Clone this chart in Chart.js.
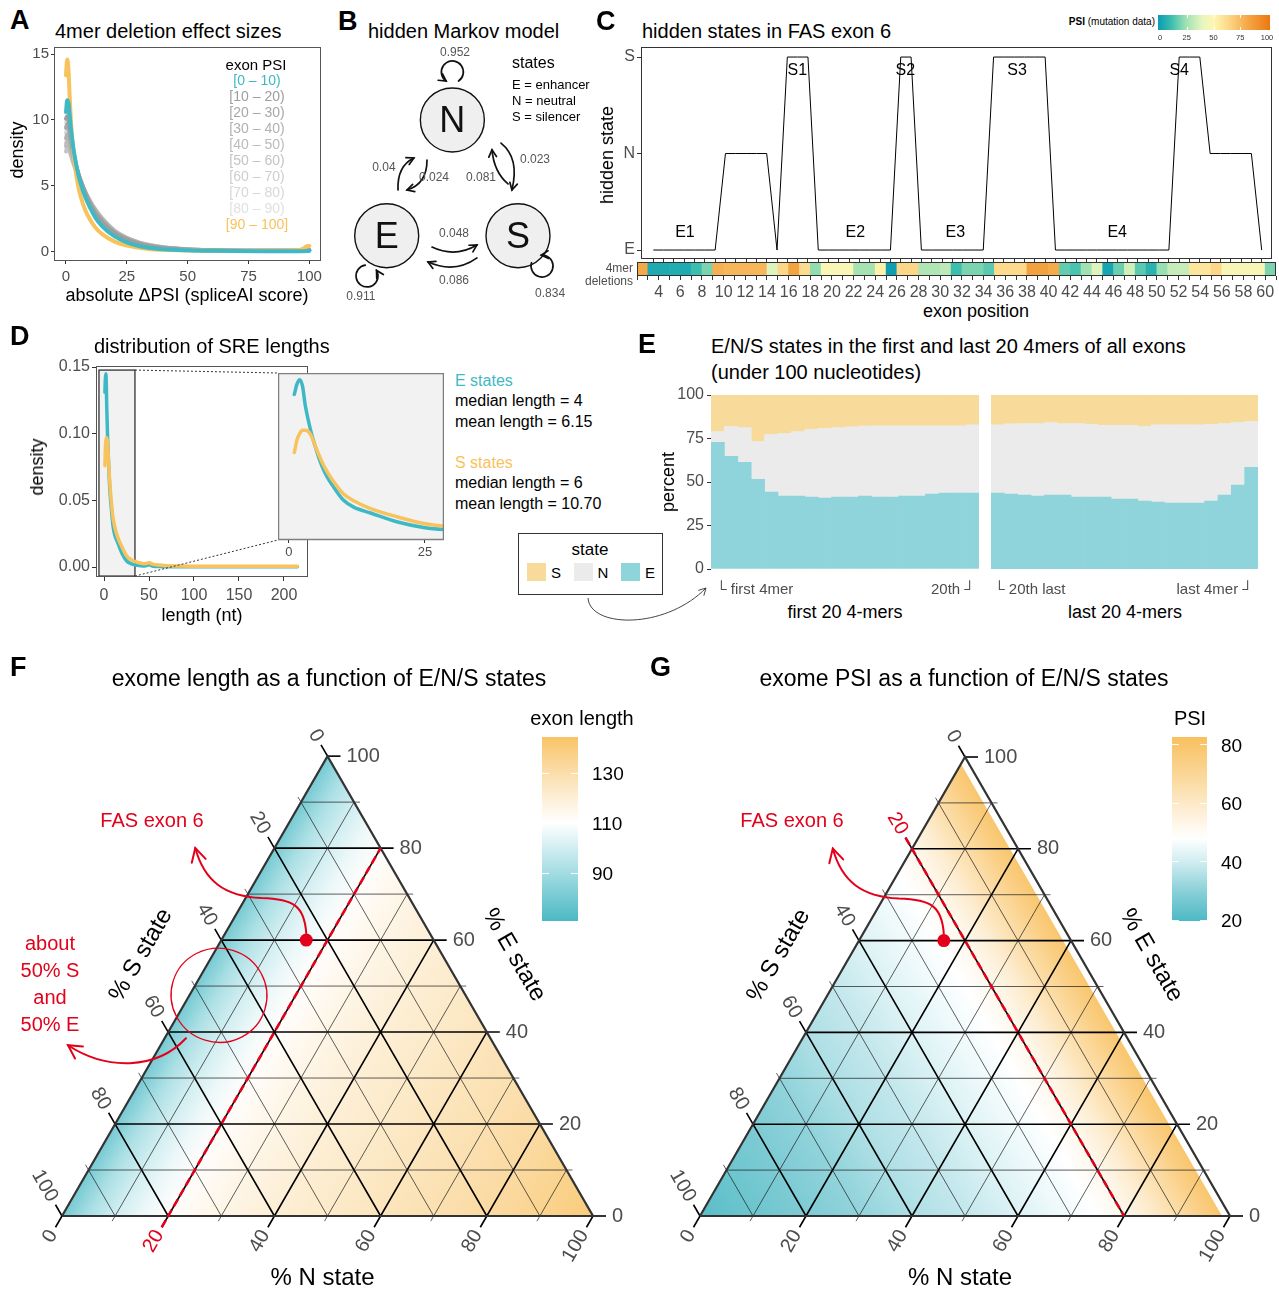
<!DOCTYPE html>
<html><head><meta charset="utf-8">
<script src="https://cdn.jsdelivr.net/npm/chart.js@4.4.1/dist/chart.umd.min.js"></script>
<style>
html,body{margin:0;padding:0;background:#fff;}
body{width:1279px;height:1290px;position:relative;overflow:hidden;font-family:"Liberation Sans",Arial,Helvetica,sans-serif;}
canvas{position:absolute;}
.t{position:absolute;white-space:nowrap;line-height:1;}
</style></head><body>
<script>
// ======================= DATA =======================
// --- Panel A: density of |dPSI| per exon PSI bin
const aX = [0,0.5,1,1.5,2,3,4,5,6,8,10,12,15,20,25,30,35,40,50,60,70,80,90,95,97,99,100];
const aBins = ['[0 – 10)','[10 – 20)','[20 – 30)','[30 – 40)','[40 – 50)','[50 – 60)','[60 – 70)','[70 – 80)','[80 – 90)','[90 – 100]'];
const aDens0to10 = [10.6,11.5,11.3,10.4,9.4,7.9,6.8,5.9,5.2,4.1,3.3,2.6,1.9,1.15,0.7,0.42,0.27,0.18,0.1,0.06,0.04,0.03,0.03,0.03,0.03,0.04,0.05];
const aDens10to20 = [10.1,10.3,10.0,9.4,8.7,7.6,6.7,6.0,5.4,4.4,3.6,2.9,2.2,1.4,0.9,0.58,0.38,0.26,0.14,0.09,0.06,0.05,0.05,0.05,0.06,0.08,0.09];
const aDens20to30 = [9.4,9.7,9.5,9.0,8.4,7.4,6.6,5.9,5.4,4.4,3.6,3.0,2.3,1.45,0.95,0.62,0.41,0.28,0.15,0.09,0.06,0.05,0.05,0.05,0.06,0.08,0.09];
const aDens30to40 = [8.6,8.9,8.8,8.4,8.0,7.2,6.5,5.9,5.4,4.5,3.7,3.1,2.4,1.5,1.0,0.66,0.44,0.3,0.16,0.1,0.07,0.05,0.05,0.05,0.06,0.08,0.1];
const aDens40to50 = [8.0,8.3,8.2,7.9,7.6,6.9,6.3,5.8,5.3,4.5,3.8,3.2,2.45,1.55,1.02,0.68,0.46,0.31,0.16,0.1,0.07,0.05,0.05,0.05,0.06,0.08,0.1];
const aDens50to60 = [7.6,7.9,7.8,7.6,7.3,6.7,6.2,5.7,5.3,4.5,3.8,3.2,2.5,1.6,1.05,0.7,0.48,0.33,0.17,0.1,0.07,0.06,0.05,0.05,0.06,0.08,0.1];
const aDens60to70 = [8.2,8.5,8.4,8.1,7.7,7.0,6.4,5.8,5.3,4.4,3.7,3.1,2.4,1.5,1.0,0.65,0.44,0.3,0.16,0.1,0.07,0.05,0.05,0.05,0.06,0.08,0.1];
const aDens70to80 = [9.0,9.3,9.2,8.8,8.2,7.3,6.5,5.9,5.3,4.3,3.6,3.0,2.3,1.45,0.95,0.62,0.42,0.28,0.15,0.09,0.06,0.05,0.05,0.05,0.06,0.08,0.1];
const aDens80to90 = [9.8,10.1,9.9,9.3,8.6,7.5,6.6,5.9,5.3,4.3,3.5,2.9,2.2,1.35,0.88,0.57,0.38,0.26,0.14,0.09,0.06,0.05,0.05,0.05,0.06,0.09,0.12];
const aDens90to100 = [13.4,14.6,13.9,11.8,10.0,7.6,6.1,5.0,4.2,3.1,2.4,1.85,1.3,0.75,0.45,0.28,0.18,0.13,0.08,0.06,0.05,0.05,0.06,0.09,0.18,0.4,0.42];
const aTicksX = [0,25,50,75,100];
const aTicksY = [0,5,10,15];

// --- Panel B: hidden Markov model
const hmmStates = ['N','E','S'];
const hmmSelfProb = ['0.952','0.911','0.834'];
const hmmTransFrom = ['E','N','S','N','E','S'];
const hmmTransTo   = ['N','E','N','S','S','E'];
const hmmTransProb = ['0.04','0.024','0.081','0.023','0.048','0.086'];
const hmmStateNames = ['E = enhancer','N = neutral','S = silencer'];

// --- Panel C: hidden states along FAS exon 6
const cStateLevels = ['E','N','S'];
const cStates = ['E','E','E','E','E','E','E','N','N','N','N','N','E','S','S','S','E','E','E','E','E','E','E','E','S','S','E','E','E','E','E','E','E','S','S','S','S','S','S','E','E','E','E','E','E','E','E','E','E','E','E','S','S','S','N','N','N','N','N','E'];
const cRegionNames = ['E1','S1','E2','S2','E3','S3','E4','S4'];
const cRegionState = ['E','S','E','S','E','S','E','S'];
const cRegionPos = [4.07,14.97,20.59,25.45,30.29,36.28,45.99,52.0];
const cStripPsi = [80,5,5,6,5,12,20,77,75,75,75,75,38,63,82,61,23,48,48,48,26,26,52,1,63,63,28,28,31,12,20,20,16,62,62,62,83,83,79,17,14,25,38,3,18,35,16,8,24,33,33,57,57,63,47,47,47,47,20];
const cStripFirst = 2;
const cTickLabels = [4,6,8,10,12,14,16,18,20,22,24,26,28,30,32,34,36,38,40,42,44,46,48,50,52,54,56,58,60];
const cPsiLegendTicks = [0,25,50,75,100];

// --- Panel D: SRE length densities
const dX = [1,1.5,2,2.5,3,4,5,6,7,8,10,12,15,20,25,30,35,40,45,48,50,52,55,60,70,80,100,150,215];
const dDensE = [0.131,0.141,0.145,0.139,0.121,0.097,0.079,0.064,0.053,0.045,0.031,0.024,0.0187,0.0101,0.0047,0.0025,0.0015,0.001,0.0007,0.0012,0.002,0.0012,0.0005,0.0003,0.0002,0.0002,0.0002,0.0002,0.0002];
const dDensS = [0.076,0.088,0.094,0.097,0.097,0.093,0.080,0.068,0.058,0.050,0.037,0.030,0.0228,0.0149,0.0085,0.0055,0.004,0.003,0.0025,0.0028,0.0033,0.0027,0.002,0.0015,0.001,0.0008,0.0006,0.0005,0.0005];
const dTicksX = [0,50,100,150,200];
const dTicksY = [0,0.05,0.10,0.15];
const dInsetRange = [-2,28.5];
const dInsetTicks = [0,25];
const dZoomX = [-5.6,34.4];
const dZoomY = [-0.0068,0.1477];
const dStatsE = ['median length = 4','mean length = 6.15'];
const dStatsS = ['median length = 6','mean length = 10.70'];

// --- Panel E: state percentages at first / last 20 4mers
const eLabels = ['1','2','3','4','5','6','7','8','9','10','11','12','13','14','15','16','17','18','19','20'];
const eFirstE = [72.8,64.8,61.3,51.6,44.2,41.9,41.9,41.3,40.8,41.3,41.3,41.9,41.3,41.3,41.9,41.9,43.0,43.6,43.6,43.6];
const eFirstN = [6.2,17.1,20.0,21.7,33.1,36.0,37.1,38.9,40.0,40.0,40.4,40.2,41.0,41.0,40.4,40.4,39.3,38.7,38.7,39.3];
const eFirstS = [21.0,18.1,18.7,26.7,22.7,22.1,21.0,19.8,19.2,18.7,18.3,17.9,17.7,17.7,17.7,17.7,17.7,17.7,17.7,17.1];
const eLastE = [43.6,43.0,42.5,41.9,42.5,42.5,41.3,41.3,41.3,40.2,40.2,39.0,38.5,37.9,37.9,37.9,39.0,42.5,48.2,58.5];
const eLastN = [39.3,40.4,41.1,41.7,41.7,41.1,42.3,41.9,41.2,42.3,42.3,42.9,44.4,45.0,45.0,45.0,44.2,41.1,36.0,26.3];
const eLastS = [17.1,16.6,16.4,16.4,15.8,16.4,16.4,16.8,17.5,17.5,17.5,18.1,17.1,17.1,17.1,17.1,16.8,16.4,15.8,15.2];
const eTicksY = [0,25,50,75,100];

// --- Panels F/G: ternary maps
const ternGridVals = [0,10,20,30,40,50,60,70,80,90,100];
const ternTickLabels = [0,20,40,60,80,100];
const fasS = 24, fasN = 16, fasE = 60;
const fLenN   = [0,5,10,15,20,30,40,50,60,70,80,90,100];
const fLenVal = [80,92,100,106,111,116,120,123,126,129,132,136,140];
const fLenTicks = [90,110,130];
const gPsiS   = [0,5,10,15,20,25,30,40,50,60,70,80,90,100];
const gPsiVal = [82,74,66,58,52,48,46,42,38,35,31,28,25,22];
const gPsiTicks = [20,40,60,80];

// ======================= STYLE / LAYOUT =======================
const FONT = "'Liberation Sans', Arial, Helvetica, sans-serif";
Chart.defaults.font.family = FONT;
const RED = '#e3001b', TEAL = '#3fb8c5', ORANGE = '#f8c25c';
const aColors = [TEAL,'#9e9e9e','#a8a8a8','#b1b1b1','#bbbbbb','#c4c4c4','#cecece','#d7d7d7','#e1e1e1',ORANGE];
const psiStops = [[0,[10,155,180]],[12,[60,190,174]],[25,[160,226,178]],[40,[232,246,192]],[50,[254,246,178]],[62,[253,218,140]],[80,[245,168,70]],[100,[234,120,20]]];
const lenStops = [[70,[72,183,195]],[90,[163,220,226]],[110,[255,255,255]],[130,[251,222,172]],[145,[248,195,98]]];
const psiGStops = [[19,[72,183,195]],[30,[138,208,216]],[40,[208,237,241]],[48,[255,255,255]],[60,[253,233,200]],[70,[251,214,150]],[83,[248,192,94]]];
const stateColors = {E:'#8fd4db', N:'#ebebeb', S:'#f8da9b'};

// ======================= HELPERS =======================
function T(s,x,y,size,o){o=o||{};const d=document.createElement('div');d.className='t';d.textContent=s;
 d.style.left=x+'px';d.style.top=y+'px';d.style.fontSize=size+'px';d.style.color=o.color||'#000';
 if(o.bold)d.style.fontWeight='bold';const ax=o.align==='l'?'0%':(o.align==='r'?'-100%':'-50%');
 d.style.transform='translate('+ax+',-50%)'+(o.rot?' rotate('+o.rot+'deg)':'');document.body.appendChild(d);return d;}
function box(l,t,w,h,css){const d=document.createElement('div');d.style.position='absolute';d.style.left=l+'px';d.style.top=t+'px';
 d.style.width=w+'px';d.style.height=h+'px';Object.assign(d.style,css||{});document.body.appendChild(d);return d;}
function cnv(l,t,w,h){const c=document.createElement('canvas');c.width=w;c.height=h;c.style.left=l+'px';c.style.top=t+'px';
 c.style.width=w+'px';c.style.height=h+'px';document.body.appendChild(c);return c;}
function cmap(stops,v){if(v<=stops[0][0])return stops[0][1];for(let i=1;i<stops.length;i++){if(v<=stops[i][0]){const a=stops[i-1],b=stops[i];const t=(v-a[0])/(b[0]-a[0]);return a[1].map((c,k)=>Math.round(c+(b[1][k]-c)*t));}}return stops[stops.length-1][1];}
function rgb(c){return 'rgb('+c.join(',')+')';}
function fitW(w){return s=>{s.width=w;s.paddingTop=0;s.paddingBottom=0;s.paddingLeft=0;s.paddingRight=0;};}
function fitH(h){return s=>{s.height=h;s.paddingTop=0;s.paddingBottom=0;s.paddingLeft=0;s.paddingRight=0;};}
function LP(t,r,b,l){return {autoPadding:false,padding:{top:t,right:r,bottom:b,left:l}};}
function linAxis(o){
 const a={type:'linear',min:o.min,max:o.max,display:o.display!==false,offset:false,
  grid:{drawOnChartArea:false,drawTicks:true,tickLength:(o.tl!=null?o.tl:4),color:'#333',lineWidth:1,offset:false},
  border:{display:false},
  ticks:{font:{size:o.fs||15},color:'#4d4d4d',padding:(o.pad!=null?o.pad:2),maxRotation:0,minRotation:0,autoSkip:false}};
 if(o.ticks)a.afterBuildTicks=s=>{s.ticks=o.ticks.map(v=>({value:v}));};
 if(o.cb)a.ticks.callback=o.cb;
 if(o.w!=null)a.afterFit=fitW(o.w);
 if(o.h!=null)a.afterFit=fitH(o.h);
 if(o.stacked)a.stacked=true;
 return a;}
const BASE={responsive:false,animation:false,devicePixelRatio:1,events:[]};
const NOLEG={legend:{display:false},tooltip:{enabled:false},title:{display:false}};
const framePlugin={id:'frame',afterDatasetsDraw(chart,args,o){if(!o||!o.color)return;const a=chart.chartArea,ctx=chart.ctx;ctx.save();
 ctx.strokeStyle=o.color;ctx.lineWidth=o.width||1;ctx.strokeRect(Math.round(a.left)+0.5,Math.round(a.top)+0.5,Math.round(a.right-a.left)-1,Math.round(a.bottom-a.top)-1);ctx.restore();}};
function head(ctx,x,y,ang,len,spr){ctx.beginPath();ctx.moveTo(x-len*Math.cos(ang-spr),y-len*Math.sin(ang-spr));ctx.lineTo(x,y);ctx.lineTo(x-len*Math.cos(ang+spr),y-len*Math.sin(ang+spr));ctx.stroke();}

// ======================= PANEL A =======================
T('A',10,20,27,{align:'l',bold:1});
T('4mer deletion effect sizes',55,31,20,{align:'l'});
const aSeries=[[aDens0to10,0],[aDens90to100,9],[aDens10to20,1],[aDens20to30,2],[aDens30to40,3],[aDens40to50,4],[aDens50to60,5],[aDens60to70,6],[aDens70to80,7],[aDens80to90,8]];
new Chart(cnv(0,40,330,270),{type:'line',
 data:{datasets:aSeries.map(([arr,k])=>({data:aX.map((x,i)=>({x:x,y:arr[i]})),borderColor:aColors[k],borderWidth:4,pointRadius:0,
   cubicInterpolationMode:'monotone',borderCapStyle:'round',borderJoinStyle:'round',fill:false}))},
 options:Object.assign({},BASE,{layout:LP(7,9,0,0),plugins:Object.assign({frame:{color:'#555'}},NOLEG),
  scales:{x:linAxis({min:-4.93,max:104.8,ticks:aTicksX,h:49,fs:15,tl:3,pad:4}),y:linAxis({min:-0.72,max:15.55,ticks:aTicksY,w:54,fs:15,tl:3})}}),
 plugins:[framePlugin]});
T('density',17,150,18,{rot:-90});
T('absolute ΔPSI (spliceAI score)',187,295,18);
T('exon PSI',256,64,15);
aBins.forEach((b,k)=>T(b,257,80+16*k,14,{color:aColors[k]}));

// ======================= PANEL B =======================
T('B',338,21,27,{align:'l',bold:1});
T('hidden Markov model',368,31,20,{align:'l'});
const hmmNodeX=[0,-1,1], hmmNodeY=[1,0,0];
const bArcStart=[[-0.828,0.395],[-0.386,0.654],[0.848,0.447],[0.741,0.800],[-0.31,-0.098],[0.375,-0.192]];
const bArcCtrl =[[-0.843,0.602],[-0.386,0.446],[0.634,0.551],[1.028,0.671],[0.04,-0.193],[0.04,-0.33]];
const bArcEnd  =[[-0.586,0.672],[-0.691,0.395],[0.604,0.742],[0.907,0.395],[0.375,-0.080],[-0.371,-0.228]];
const bArcLabel=[[-1.043,0.585],[-0.28,0.499],[0.436,0.499],[1.259,0.654],[0.025,0.015],[0.025,-0.392]];
const bLoopCenter=[[0.0,1.415],[-1.30,-0.348],[1.366,-0.262]];
const bLoopGap=[Math.PI/2,-1.13,-2.24];
const bLoopLabel=[[0.04,1.579],[-1.393,-0.530],[1.488,-0.504]];
const hmmPlugin={id:'hmm',afterDatasetsDraw(chart){
 const ctx=chart.ctx,X=v=>chart.scales.x.getPixelForValue(v),Y=v=>chart.scales.y.getPixelForValue(v);
 ctx.save();ctx.strokeStyle='#111';ctx.lineWidth=1.7;ctx.lineCap='round';
 ctx.font="12px "+FONT;ctx.textAlign='center';ctx.textBaseline='middle';
 hmmTransProb.forEach((p,i)=>{
  const s=bArcStart[i],c=bArcCtrl[i],e=bArcEnd[i];
  const sx=X(s[0]),sy=Y(s[1]),cx=X(c[0]),cy=Y(c[1]),ex=X(e[0]),ey=Y(e[1]);
  ctx.beginPath();ctx.moveTo(sx,sy);ctx.quadraticCurveTo(cx,cy,ex,ey);ctx.stroke();
  head(ctx,ex,ey,Math.atan2(ey-cy,ex-cx),8,0.5);
  ctx.fillStyle='#555';ctx.fillText(p,X(bArcLabel[i][0]),Y(bArcLabel[i][1]));});
 hmmSelfProb.forEach((p,i)=>{
  const cx=X(bLoopCenter[i][0]),cy=Y(bLoopCenter[i][1]),r=11,g=bLoopGap[i],h=0.6;
  const a0=g+h,a1=g-h;ctx.beginPath();ctx.arc(cx,cy,r,a1,a0,true);ctx.stroke();
  const ex=cx+r*Math.cos(a0),ey=cy+r*Math.sin(a0);const tang=Math.atan2(-Math.cos(a0),Math.sin(a0));
  head(ctx,ex,ey,tang,8,0.5);
  ctx.fillStyle='#555';ctx.fillText(p,X(bLoopLabel[i][0]),Y(bLoopLabel[i][1]));});
 ctx.fillStyle='#111';ctx.font="36px "+FONT;
 hmmStates.forEach((s,i)=>ctx.fillText(s,X(hmmNodeX[i]),Y(hmmNodeY[i])+2));
 ctx.restore();}};
new Chart(cnv(330,40,270,270),{type:'scatter',
 data:{datasets:[{data:hmmStates.map((s,i)=>({x:hmmNodeX[i],y:hmmNodeY[i]})),pointRadius:32,pointBackgroundColor:'#efefef',pointBorderColor:'#111',pointBorderWidth:1.4,clip:false}]},
 options:Object.assign({},BASE,{layout:LP(0,0,0,0),plugins:NOLEG,scales:{x:{type:'linear',display:false,min:-1.8637,max:2.2491},y:{type:'linear',display:false,min:-0.6422,max:1.6914}}}),
 plugins:[hmmPlugin]});
T('states',512,63,16,{align:'l'});
hmmStateNames.forEach((s,k)=>T(s,512,84+16*k,13,{align:'l'}));

// ======================= PANEL C =======================
T('C',596,21,27,{align:'l',bold:1});
T('hidden states in FAS exon 6',642,31,20,{align:'l'});
const cPlugin={id:'cLabels',afterDatasetsDraw(chart){const ctx=chart.ctx,X=v=>chart.scales.x.getPixelForValue(v),Y=v=>chart.scales.y.getPixelForValue(v);
 ctx.save();ctx.font="16px "+FONT;ctx.fillStyle='#000';ctx.textAlign='center';ctx.textBaseline='middle';
 cRegionNames.forEach((n,i)=>{const lv=cStateLevels.indexOf(cRegionState[i]);ctx.fillText(n,X(cRegionPos[i]),Y(lv===0?lv+0.176:lv-0.145));});ctx.restore();}};
new Chart(cnv(595,40,684,225),{type:'line',
 data:{datasets:[{data:cStates.map((s,i)=>({x:i+1,y:cStateLevels.indexOf(s)})),borderColor:'#000',borderWidth:1,pointRadius:0,tension:0,fill:false}]},
 options:Object.assign({},BASE,{layout:LP(7,7,0,0),plugins:Object.assign({frame:{color:'#333'}},NOLEG),
  scales:{x:linAxis({min:-0.19,max:61.0,ticks:cStates.map((s,i)=>i+1),h:6,tl:4,cb:()=>''}),
          y:linAxis({min:-0.093,max:2.104,ticks:[0,1,2],w:46,fs:16,cb:v=>cStateLevels[v]})}}),
 plugins:[framePlugin,cPlugin]});
T('hidden state',607,155,18,{rot:-90});
// strip
const stripTicks=[];for(let v=cStripFirst;v<=cStripFirst+cStripPsi.length;v++)stripTicks.push(v);
new Chart(cnv(595,255,684,45),{type:'bar',
 data:{datasets:[{data:cStripPsi.map((v,i)=>({x:cStripFirst+i+0.5,y:[0,1]})),backgroundColor:cStripPsi.map(v=>rgb(cmap(psiStops,v))),borderWidth:0,barPercentage:1,categoryPercentage:1}]},
 options:Object.assign({},BASE,{layout:LP(7,3,0,42),plugins:Object.assign({frame:{color:'#333'}},NOLEG),
  scales:{x:linAxis({min:cStripFirst,max:cStripFirst+cStripPsi.length,ticks:stripTicks,h:24,fs:16,tl:4,pad:3,cb:v=>cTickLabels.includes(v)?String(v):''}),
          y:{type:'linear',display:false,min:0,max:1}}}),
 plugins:[framePlugin]});
T('4mer',633,268,12,{align:'r',color:'#4d4d4d'});
T('deletions',633,281,12,{align:'r',color:'#4d4d4d'});
T('exon position',976,311,18);
// PSI legend (top right)
(function(){const d=T('',1155,22,10,{align:'r'});d.innerHTML='<b>PSI</b> (mutation data)';
 const parts=psiStops.map(([v,c])=>rgb(c)+' '+v+'%');box(1158,15,112,15,{background:'linear-gradient(to right,'+parts.join(',')+')'});
 cPsiLegendTicks.forEach(v=>{const x=1160+v*1.07;T(String(v),x,38,7.5,{color:'#333'});if(v>0&&v<100){box(x,15,1,3,{background:'#fff'});box(x,27,1,3,{background:'#fff'});}});})();

// ======================= PANEL D =======================
T('D',10,336,27,{align:'l',bold:1});
T('distribution of SRE lengths',94,346,20,{align:'l'});
const dPlugin={id:'dZoom',
 beforeDatasetsDraw(chart){const ctx=chart.ctx,X=v=>chart.scales.x.getPixelForValue(v),Y=v=>chart.scales.y.getPixelForValue(v);
  ctx.save();ctx.fillStyle='#f2f2f2';ctx.strokeStyle='#222';ctx.lineWidth=1.2;
  const x0=X(dZoomX[0]),x1=X(dZoomX[1]),y0=Y(dZoomY[1]),y1=Y(dZoomY[0]);ctx.fillRect(x0,y0,x1-x0,y1-y0);ctx.strokeRect(x0,y0,x1-x0,y1-y0);ctx.restore();},
 afterDraw(chart){const ctx=chart.ctx,X=v=>chart.scales.x.getPixelForValue(v),Y=v=>chart.scales.y.getPixelForValue(v);
  ctx.save();ctx.strokeStyle='#333';ctx.lineWidth=1;ctx.setLineDash([2,2]);
  const x1=X(dZoomX[1]),yt=Y(dZoomY[1]),yb=Y(dZoomY[0]);
  ctx.beginPath();ctx.moveTo(x1,yt);ctx.lineTo(278,18);ctx.moveTo(x1,yb);ctx.lineTo(278,185);ctx.stroke();ctx.restore();}};
const dSets=(w)=>[{data:dX.map((x,i)=>({x:x,y:dDensS[i]})),borderColor:ORANGE,borderWidth:w,pointRadius:0,cubicInterpolationMode:'monotone',fill:false,borderCapStyle:'round'},
                  {data:dX.map((x,i)=>({x:x,y:dDensE[i]})),borderColor:TEAL,borderWidth:w,pointRadius:0,cubicInterpolationMode:'monotone',fill:false,borderCapStyle:'round'}];
new Chart(cnv(0,355,450,275),{type:'line',data:{datasets:dSets(3.5)},
 options:Object.assign({},BASE,{layout:LP(11,142,0,0),plugins:Object.assign({frame:{color:'#555'}},NOLEG),
  scales:{x:linAxis({min:-8.9,max:226.7,ticks:dTicksX,h:53,fs:16,tl:4,pad:5}),y:linAxis({min:-0.0075,max:0.15075,ticks:dTicksY,w:96,fs:16,tl:4,cb:v=>v.toFixed(2)})}}),
 plugins:[framePlugin,dPlugin]});
const insetBg={id:'insetBg',beforeDatasetsDraw(chart){const a=chart.chartArea,ctx=chart.ctx;ctx.save();ctx.fillStyle='#f2f2f2';ctx.fillRect(a.left,a.top,a.right-a.left,a.bottom-a.top);ctx.restore();}};
new Chart(cnv(278,373,166,190),{type:'line',data:{datasets:dSets(3.5)},
 options:Object.assign({},BASE,{layout:LP(0,0,0,0),plugins:Object.assign({frame:{color:'#7f7f7f',width:1.5}},NOLEG),
  scales:{x:linAxis({min:dInsetRange[0],max:dInsetRange[1],ticks:dInsetTicks,h:23,fs:13,tl:3}),y:{type:'linear',display:false,min:-0.0069,max:0.1513}}}),
 plugins:[insetBg,framePlugin]});
T('density',37,467,18,{rot:-90});
T('length (nt)',202,615,18);
T('E states',455,381,16,{align:'l',color:TEAL});
dStatsE.forEach((s,k)=>T(s,455,401+21*k,16,{align:'l'}));
T('S states',455,463,16,{align:'l',color:ORANGE});
dStatsS.forEach((s,k)=>T(s,455,483+21*k,16,{align:'l'}));

// ======================= PANEL E =======================
T('E',638,344,27,{align:'l',bold:1});
T('E/N/S states in the first and last 20 4mers of all exons',711,346,20,{align:'l'});
T('(under 100 nucleotides)',711,372,20,{align:'l'});
function eSets(E,N,S){return [{label:'E',data:E,backgroundColor:stateColors.E},{label:'N',data:N,backgroundColor:stateColors.N},{label:'S',data:S,backgroundColor:stateColors.S}]
 .map(d=>Object.assign(d,{borderWidth:0,barPercentage:1,categoryPercentage:1}));}
new Chart(cnv(640,385,345,215),{type:'bar',data:{labels:eLabels,datasets:eSets(eFirstE,eFirstN,eFirstS)},
 options:Object.assign({},BASE,{layout:LP(10,6,31,0),plugins:NOLEG,
  scales:{x:{type:'category',display:false,stacked:true},y:linAxis({min:0,max:100,ticks:eTicksY,w:71,fs:16,tl:4,pad:3,stacked:true})}})});
new Chart(cnv(985,385,285,215),{type:'bar',data:{labels:eLabels,datasets:eSets(eLastE,eLastN,eLastS)},
 options:Object.assign({},BASE,{layout:LP(10,12,31,6),plugins:NOLEG,
  scales:{x:{type:'category',display:false,stacked:true},y:{type:'linear',display:false,min:0,max:100,stacked:true}}})});
T('percent',668,482,18,{rot:-90});
T('└ first 4mer',716,588,15,{align:'l',color:'#4d4d4d'});
T('20th ┘',975,588,15,{align:'r',color:'#4d4d4d'});
T('└ 20th last',994,588,15,{align:'l',color:'#4d4d4d'});
T('last 4mer ┘',1253,588,15,{align:'r',color:'#4d4d4d'});
T('first 20 4-mers',845,612,18);
T('last 20 4-mers',1125,612,18);
box(518,533,145,62,{border:'1px solid #333',boxSizing:'border-box',background:'#fff'});
T('state',590,549,17);
[['S',527],['N',574],['E',621]].forEach(([s,x])=>{box(x,563,19,18,{background:stateColors[s]});T(s,x+29,572,15);});
(function(){const ns='http://www.w3.org/2000/svg';const svg=document.createElementNS(ns,'svg');
 svg.setAttribute('width','1279');svg.setAttribute('height','1290');svg.style.position='absolute';svg.style.left='0';svg.style.top='0';svg.style.pointerEvents='none';
 const p=document.createElementNS(ns,'path');p.setAttribute('d','M588,598 C590,628 665,630 706,588');p.setAttribute('fill','none');p.setAttribute('stroke','#444');p.setAttribute('stroke-width','1');svg.appendChild(p);
 const a=Math.atan2(588-630,706-665),L=8;const h=document.createElementNS(ns,'path');
 h.setAttribute('d','M'+(706-L*Math.cos(a-0.5))+','+(588-L*Math.sin(a-0.5))+' L706,588 L'+(706-L*Math.cos(a+0.5))+','+(588-L*Math.sin(a+0.5)));
 h.setAttribute('fill','none');h.setAttribute('stroke','#444');h.setAttribute('stroke-width','1');svg.appendChild(h);document.body.appendChild(svg);})();

// ======================= PANELS F / G (ternary) =======================
function tern(S,N,E){return {x:(N+E/2)/100,y:E/100*0.8660254};}
function mv(p,dx,dy,len){return {x:p.x+dx*len,y:p.y+dy*len};}
function buildTern(cfg){
 const {left,top,w,h,ox,oy,unit}=cfg;
 const xmin=-(ox-left)/unit,xmax=xmin+w/unit,ymin=-(top+h-oy)/unit,ymax=ymin+h/unit;
 const majE=13/unit,minE=6/unit;
 const lines=[];
 ternGridVals.forEach(v=>{const major=v%20===0,e=major?majE:minE;
  const st={borderColor:major?'#000':'#1a1a1a',borderWidth:major?1.6:0.7};
  const eR=tern(0,100-v,v),eL=tern(100-v,0,v),nB=tern(100-v,v,0),nT=tern(0,v,100-v),sB=tern(v,100-v,0),sL=tern(v,0,100-v);
  const edge=(v===0||v===100);
  lines.push(Object.assign({pts:edge?[eR,mv(eR,1,0,e)]:[eL,eR,mv(eR,1,0,e)]},st));
  lines.push(Object.assign({pts:edge?[nB,mv(nB,-0.5,-0.866,e)]:[nT,nB,mv(nB,-0.5,-0.866,e)]},st));
  lines.push(Object.assign({pts:edge?[sL,mv(sL,-0.5,0.866,e)]:[sB,sL,mv(sL,-0.5,0.866,e)]},st));});
 const L=(pts,o)=>Object.assign({type:'scatter',data:pts,showLine:true,pointRadius:0,fill:false,clip:false,tension:0},o);
 const red=cfg.redAxis==='N'?[mv(tern(100-cfg.redValue,cfg.redValue,0),-0.5,-0.866,majE),tern(0,cfg.redValue,100-cfg.redValue)]
                             :[mv(tern(cfg.redValue,0,100-cfg.redValue),-0.5,0.866,majE),tern(cfg.redValue,100-cfg.redValue,0)];
 const datasets=[
  {type:'scatter',data:[tern(fasS,fasN,fasE)],pointRadius:6.5,pointBackgroundColor:RED,pointBorderWidth:0,clip:false},
  L(red,{borderColor:RED,borderWidth:2.6,borderDash:[8,4]}),
  L([tern(100,0,0),tern(0,100,0),tern(0,0,100),tern(100,0,0)],{borderColor:'#333',borderWidth:2.2})]
  .concat(lines.map(l=>L(l.pts,{borderColor:l.borderColor,borderWidth:l.borderWidth})));
 const plug={id:'tern',
  beforeDatasetsDraw(chart){const ctx=chart.ctx,X=v=>chart.scales.x.getPixelForValue(v),Y=v=>chart.scales.y.getPixelForValue(v);
   ctx.save();ctx.beginPath();cfg.clip.forEach((p,i)=>{i?ctx.lineTo(X(p.x),Y(p.y)):ctx.moveTo(X(p.x),Y(p.y));});ctx.closePath();ctx.clip();
   const g=ctx.createLinearGradient(X(cfg.g0.x),Y(cfg.g0.y),X(cfg.g1.x),Y(cfg.g1.y));
   cfg.fillPos.forEach((p,i)=>g.addColorStop(p/100,rgb(cmap(cfg.stops,cfg.fillVal[i]))));
   ctx.fillStyle=g;ctx.fillRect(0,0,chart.width,chart.height);ctx.restore();},
  afterDraw(chart){const ctx=chart.ctx,X=v=>chart.scales.x.getPixelForValue(v),Y=v=>chart.scales.y.getPixelForValue(v);
   const P=p=>[X(p.x),Y(p.y)];const d1=13+5;
   ctx.save();ctx.font="20px "+FONT;ctx.textBaseline='middle';
   ternTickLabels.forEach(v=>{
    let [x,y]=P(tern(0,100-v,v));ctx.fillStyle=(cfg.redAxis==='E'&&v===cfg.redValue)?RED:'#4d4d4d';ctx.textAlign='left';ctx.fillText(String(v),x+13+6,y);
    [x,y]=P(tern(100-v,v,0));ctx.save();ctx.translate(x-0.5*d1,y+0.866*d1);ctx.rotate(-Math.PI/3);ctx.textAlign='right';
    ctx.fillStyle=(cfg.redAxis==='N'&&v===cfg.redValue)?RED:'#4d4d4d';ctx.fillText(String(v),0,0);ctx.restore();
    [x,y]=P(tern(v,0,100-v));ctx.save();ctx.translate(x-0.5*d1,y-0.866*d1);ctx.rotate(Math.PI/3);ctx.textAlign='right';
    ctx.fillStyle=(cfg.redAxis==='S'&&v===cfg.redValue)?RED:'#4d4d4d';ctx.fillText(String(v),0,0);ctx.restore();});
   ctx.font="24px "+FONT;ctx.fillStyle='#000';ctx.textAlign='center';
   let [x,y]=P(tern(50,50,0));ctx.fillText('% N state',x-5,y+62);
   [x,y]=P(tern(50,0,50));ctx.save();ctx.translate(x-62*0.866,y-62*0.5);ctx.rotate(-Math.PI/3);ctx.fillText('% S state',0,0);ctx.restore();
   [x,y]=P(tern(0,50,50));ctx.save();ctx.translate(x+62*0.866,y-62*0.5);ctx.rotate(Math.PI/3);ctx.fillText('% E state',0,0);ctx.restore();
   // red annotations
   ctx.strokeStyle=RED;ctx.lineWidth=2;ctx.lineCap='round';
   const [dx,dy]=P(tern(fasS,fasN,fasE));
   const pts=[[dx,dy-7],[dx-2,dy-34],[dx-12,dy-41],[dx-45,dy-42],[dx-82,dy-44],[dx-102,dy-59],[dx-111,dy-92]];
   ctx.beginPath();ctx.moveTo(pts[0][0],pts[0][1]);ctx.bezierCurveTo(...pts[1],...pts[2],...pts[3]);ctx.bezierCurveTo(...pts[4],...pts[5],...pts[6]);ctx.stroke();
   head(ctx,pts[6][0],pts[6][1],Math.atan2(pts[6][1]-pts[5][1],pts[6][0]-pts[5][0]),15,0.5);
   if(cfg.loop){const [cx,cy]=P(tern(cfg.loop[0],cfg.loop[1],cfg.loop[2]));ctx.lineWidth=1.3;ctx.beginPath();ctx.ellipse(cx+3,cy,48,47,0.3,0,Math.PI*2);ctx.stroke();
    ctx.lineWidth=2;const q=[[cx-30,cy+43],[cx-60,cy+75],[cx-110,cy+75],[cx-148,cy+50]];
    ctx.beginPath();ctx.moveTo(q[0][0],q[0][1]);ctx.bezierCurveTo(...q[1],...q[2],...q[3]);ctx.stroke();
    head(ctx,q[3][0],q[3][1],Math.atan2(q[3][1]-q[2][1],q[3][0]-q[2][0]),15,0.5);}
   ctx.restore();}};
 new Chart(cnv(left,top,w,h),{type:'scatter',data:{datasets:datasets},
  options:Object.assign({},BASE,{layout:LP(0,0,0,0),plugins:NOLEG,scales:{x:{type:'linear',display:false,min:xmin,max:xmax},y:{type:'linear',display:false,min:ymin,max:ymax}}}),
  plugins:[plug]});
}
buildTern({left:0,top:690,w:640,h:600,ox:62,oy:1216,unit:531,fillPos:fLenN,fillVal:fLenVal,stops:lenStops,
 g0:tern(50,0,50),g1:tern(0,100,0),clip:[tern(100,0,0),tern(0,100,0),tern(0,0,100)],redAxis:'N',redValue:20,loop:[47,5,48]});
buildTern({left:640,top:690,w:639,h:600,ox:700,oy:1216,unit:530,fillPos:gPsiS,fillVal:gPsiVal,stops:psiGStops,
 g0:tern(0,50,50),g1:tern(100,0,0),clip:[tern(100,0,0),tern(1.5,98.5,0),tern(1.5,0,98.5)],redAxis:'S',redValue:20,loop:null});
T('F',10,667,27,{align:'l',bold:1});
T('G',650,667,27,{align:'l',bold:1});
T('exome length as a function of E/N/S states',329,678,23);
T('exome PSI as a function of E/N/S states',964,678,23);
T('FAS exon 6',152,820,20,{color:RED});
T('FAS exon 6',792,820,20,{color:RED});
['about','50% S','and','50% E'].forEach((s,k)=>T(s,50,943+27*k,20,{color:RED}));
function colorbarV(l,t,w,h,vmin,vmax,stops,ticks,labX,fs){
 const parts=stops.map(([v,c])=>rgb(c)+' '+(((v-vmin)/(vmax-vmin))*100).toFixed(1)+'%');
 box(l,t,w,h,{background:'linear-gradient(to top,'+parts.join(',')+')'});
 ticks.forEach(v=>{const y=t+h-(v-vmin)/(vmax-vmin)*h;box(l,y-0.5,7,1,{background:'rgba(255,255,255,0.9)'});box(l+w-7,y-0.5,7,1,{background:'rgba(255,255,255,0.9)'});T(String(v),labX,y,fs,{align:'l'});});}
T('exon length',582,718,20);
colorbarV(542,737,36,184,70.8,144.4,lenStops,fLenTicks,592,19);
T('PSI',1190,718,20);
colorbarV(1172,737,35,184,19.7,82.7,psiGStops,gPsiTicks,1221,19);
</script>
</body></html>
